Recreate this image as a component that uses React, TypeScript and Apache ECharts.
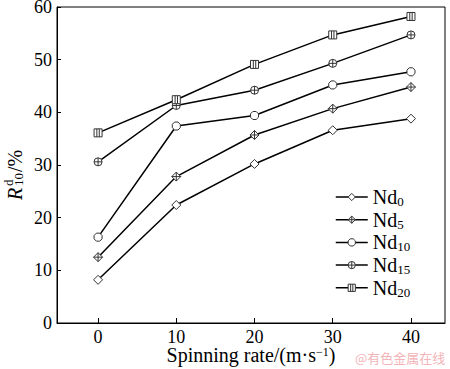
import React, { useEffect, useRef } from "react";
import * as echarts from "echarts";

const rates = [0, 10, 20, 30, 40];
const nd0 = [8.2, 22.4, 30.2, 36.6, 38.8];
const nd5 = [12.5, 27.8, 35.7, 40.7, 44.8];
const nd10 = [16.3, 37.4, 39.4, 45.2, 47.7];
const nd15 = [30.6, 41.3, 44.2, 49.3, 54.7];
const nd20 = [36.1, 42.4, 49.1, 54.7, 58.2];
const seriesNames = ["Nd0", "Nd5", "Nd10", "Nd15", "Nd20"];

const symbols = [
  "path://M5 0 L10 5 L5 10 L0 5 Z",
  "path://M5 0 L10 5 L5 10 L0 5 Z M5 0 L5 10 M0 5 L10 5",
  "path://M2.9 0 L7.1 0 L10 2.9 L10 7.1 L7.1 10 L2.9 10 L0 7.1 L0 2.9 Z",
  "path://M0 5 A5 5 0 1 1 10 5 A5 5 0 1 1 0 5 Z M5 0 L5 10 M0 5 L10 5",
  "path://M0 0 L10 0 L10 10 L0 10 Z M3.5 0 L3.5 10 M6.5 0 L6.5 10",
];
const symbolSizes = [9, 9, 8, 8, 8];

export default function App() {
  const ref = useRef<HTMLDivElement>(null);
  useEffect(() => {
    const chart = echarts.init(ref.current!, undefined, { renderer: "svg" });
    const data = [nd0, nd5, nd10, nd15, nd20];
    const font = "Liberation Serif";
    chart.setOption({
      animation: false,
      backgroundColor: "#fff",
      textStyle: { fontFamily: font },
      grid: {
        left: 57,
        right: 5,
        top: 7,
        bottom: 46,
        containLabel: false,
        outerBoundsMode: "none",
        show: true,
        borderColor: "#000",
        borderWidth: 1,
      },
      xAxis: {
        type: "value",
        min: -5.25,
        max: 44.35,
        axisLine: { show: true, onZero: false, lineStyle: { color: "#000", width: 1 } },
        axisTick: { show: true, inside: true, length: 5, customValues: rates, lineStyle: { color: "#000" } },
        axisLabel: { customValues: rates, color: "#000", fontFamily: font, fontSize: 18, lineHeight: 16, margin: 6 },
        splitLine: { show: false },
        name: "{t|Spinning rate/(m·s}{sup|−1}{t|)}",
        nameLocation: "middle",
        nameGap: 23,
        nameMoveOverlap: false,
        nameTextStyle: {
          color: "#000",
          fontFamily: font,
          fontSize: 20,
          lineHeight: 18,
          rich: {
            t: { fontFamily: font, fontSize: 20, color: "#000", lineHeight: 18 },
            sup: { fontFamily: font, fontSize: 12, verticalAlign: "top", lineHeight: 12, padding: [0, 0, 2, 0], color: "#000" },
          },
        },
      },
      yAxis: {
        type: "value",
        min: 0,
        max: 60,
        interval: 10,
        axisLine: { show: true, onZero: false, lineStyle: { color: "#000", width: 1 } },
        axisTick: { show: true, inside: true, length: 4, lineStyle: { color: "#000" } },
        axisLabel: { color: "#000", fontFamily: font, fontSize: 18, margin: 5 },
        splitLine: { show: false },
      },
      legend: {
        orient: "vertical",
        left: 330,
        top: 181,
        itemWidth: 32,
        itemHeight: 9,
        itemGap: 0.7,
        data: seriesNames,
        itemStyle: { color: "#fff", borderColor: "#333", borderWidth: 1 },
        lineStyle: { color: "#000", width: 1.5 },
        formatter: (n: string) => "{n|Nd}{sub|" + n.slice(2) + "}",
        textStyle: {
          color: "#000",
          fontFamily: font,
          fontSize: 20,
          lineHeight: 20,
          rich: {
            n: { fontFamily: font, fontSize: 20, color: "#000", lineHeight: 20 },
            sub: { fontFamily: font, fontSize: 13, color: "#000", padding: [9, 0, 0, 0], lineHeight: 20 },
          },
        },
      },
      series: data.map((d, i) => ({
        name: seriesNames[i],
        type: "line",
        data: d.map((v, j) => [rates[j], v]),
        symbol: symbols[i],
        symbolSize: symbolSizes[i],
        showSymbol: true,
        lineStyle: { color: "#000", width: 1.5 },
        itemStyle: { color: "#fff", borderColor: "#333", borderWidth: 1 },
      })),
      graphic: [
        {
          type: "group",
          x: 15,
          y: 200,
          rotation: Math.PI / 2,
          children: [
            { type: "text", x: 0, y: 0, style: { text: "R", fontFamily: font, fontSize: 20, fontStyle: "italic", fill: "#000", verticalAlign: "middle", align: "left" } },
            { type: "text", x: 14, y: -7, style: { text: "d", fontFamily: font, fontSize: 13, fill: "#000", verticalAlign: "middle", align: "left" } },
            { type: "text", x: 14, y: 3, style: { text: "10", fontFamily: font, fontSize: 13, fill: "#000", verticalAlign: "middle", align: "left" } },
            { type: "text", x: 28, y: 0, style: { text: "/%", fontFamily: font, fontSize: 20, fill: "#000", verticalAlign: "middle", align: "left" } },
          ],
        },
        {
          type: "text",
          left: 355,
          top: 351,
          style: { text: "@有色金属在线", fill: "#f3b4b8", fontSize: 13, fontFamily: "Noto Sans CJK SC" },
        },
      ],
    });
    return () => chart.dispose();
  }, []);
  return <div ref={ref} style={{ width: 450, height: 369, position: "absolute", left: 0, top: 0 }} />;
}
